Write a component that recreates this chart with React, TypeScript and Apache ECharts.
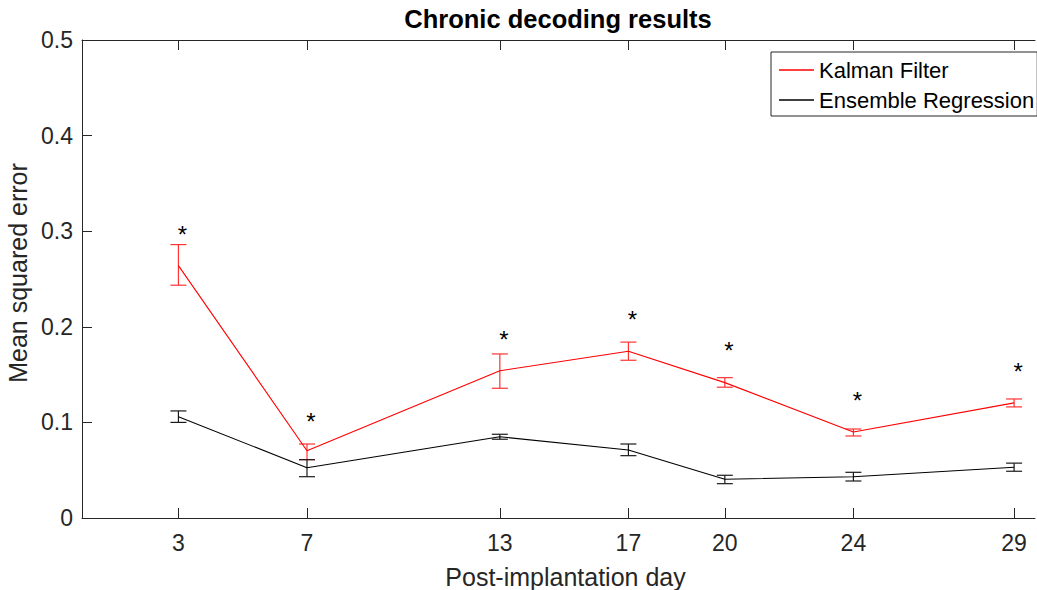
import React, { useEffect, useRef } from "react";
import * as echarts from "echarts";

const days = [3, 7, 13, 17, 20, 24, 29];
const kalmanMean = [0.264, 0.0704, 0.154, 0.1745, 0.1416, 0.09, 0.1204];
const kalmanLow = [0.2435, 0.061, 0.1357, 0.165, 0.1368, 0.0858, 0.1162];
const kalmanHigh = [0.286, 0.0774, 0.1716, 0.184, 0.1468, 0.0931, 0.1245];
const ensembleMean = [0.106, 0.0526, 0.085, 0.0712, 0.0405, 0.0432, 0.0531];
const ensembleLow = [0.1, 0.0432, 0.0824, 0.0652, 0.0359, 0.0387, 0.0489];
const ensembleHigh = [0.112, 0.061, 0.0876, 0.0774, 0.0447, 0.0478, 0.0574];
const starValues = [0.302, 0.106, 0.1915, 0.2125, 0.18, 0.128, 0.158];
const yTicks = [0, 0.1, 0.2, 0.3, 0.4, 0.5];

const FONT = "'Liberation Sans', Arial, Helvetica, sans-serif";
const TXT = "#262626";

function errorBarSeries(color: string, low: number[], high: number[]) {
  return {
    type: "custom",
    silent: true,
    z: 3,
    data: days.map((d, i) => [d, low[i], high[i]]),
    renderItem: (params: any, api: any) => {
      const x = api.value(0);
      const lo = api.coord([x, api.value(1)]);
      const hi = api.coord([x, api.value(2)]);
      const w = 8;
      const style = { stroke: color, lineWidth: 1.2 };
      return {
        type: "group",
        children: [
          { type: "line", shape: { x1: lo[0], y1: lo[1], x2: hi[0], y2: hi[1] }, style },
          { type: "line", shape: { x1: lo[0] - w, y1: lo[1], x2: lo[0] + w, y2: lo[1] }, style },
          { type: "line", shape: { x1: hi[0] - w, y1: hi[1], x2: hi[0] + w, y2: hi[1] }, style },
        ],
      };
    },
  };
}

export default function App() {
  const ref = useRef<HTMLDivElement>(null);
  useEffect(() => {
    if (!ref.current) return;
    const chart = echarts.init(ref.current, undefined, { renderer: "svg" });
    const xCommon = {
      type: "value",
      min: 0,
      max: 29.65,
      splitLine: { show: false },
      axisLine: { show: true, lineStyle: { color: TXT, width: 1 } },
      axisTick: {
        show: true,
        inside: true,
        length: 10,
        customValues: days,
        lineStyle: { color: TXT, width: 1 },
      },
    };
    chart.setOption({
      animation: false,
      backgroundColor: "#ffffff",
      textStyle: { fontFamily: FONT },
      title: {
        text: "Chronic decoding results",
        left: 558,
        top: 6,
        padding: 0,
        textAlign: "center",
        textStyle: { fontFamily: FONT, fontSize: 25.5, fontWeight: "bold", color: "#000" },
      },
      legend: {
        orient: "vertical",
        left: 771,
        top: 52,
        padding: [7, 3, 5, 8],
        itemGap: 8,
        itemWidth: 35,
        itemHeight: 1.5,
        icon: "rect",
        backgroundColor: "#fff",
        borderColor: TXT,
        borderWidth: 1,
        borderRadius: 0,
        data: ["Kalman Filter", "Ensemble Regression"],
        textStyle: { fontFamily: FONT, fontSize: 22, color: "#000", lineHeight: 21, padding: [0, 0, 0, 0] },
      },
      grid: { left: 82, top: 40, bottom: 72, right: 2, containLabel: false, outerBoundsMode: "none" },
      xAxis: [
        {
          ...xCommon,
          position: "bottom",
          name: "Post-implantation day",
          nameLocation: "middle",
          nameGap: 46,
          nameTextStyle: { fontFamily: FONT, fontSize: 25, color: TXT, padding: [0, 0, 0, 14] },
          axisLabel: {
            show: true,
            customValues: days,
            margin: 13,
            fontFamily: FONT,
            fontSize: 23,
            color: TXT,
          },
        },
        {
          ...xCommon,
          position: "top",
          axisLabel: { show: false },
        },
      ],
      yAxis: {
        type: "value",
        min: 0,
        max: 0.5,
        interval: 0.1,
        name: "Mean squared error",
        nameLocation: "middle",
        nameGap: 47,
        nameTextStyle: { fontFamily: FONT, fontSize: 25, color: TXT, padding: [0, 0, 0, 12] },
        splitLine: { show: false },
        axisLine: { show: true, lineStyle: { color: TXT, width: 1 } },
        axisTick: { show: true, inside: true, length: 10, lineStyle: { color: TXT, width: 1 } },
        axisLabel: {
          margin: 9,
          fontFamily: FONT,
          fontSize: 23,
          color: TXT,
          customValues: yTicks,
          formatter: (v: number) => (v === 0 ? "0" : String(Math.round(v * 10) / 10)),
        },
      },
      series: [
        {
          name: "Kalman Filter",
          type: "line",
          data: days.map((d, i) => [d, kalmanMean[i]]),
          symbol: "none",
          lineStyle: { color: "#ff0000", width: 1.1 },
          itemStyle: { color: "#ff0000" },
          z: 4,
        },
        {
          name: "Ensemble Regression",
          type: "line",
          data: days.map((d, i) => [d, ensembleMean[i]]),
          symbol: "none",
          lineStyle: { color: "#000000", width: 1.1 },
          itemStyle: { color: "#000000" },
          z: 4,
        },
        errorBarSeries("#ff3333", kalmanLow, kalmanHigh),
        errorBarSeries("#1a1a1a", ensembleLow, ensembleHigh),
        {
          type: "custom",
          silent: true,
          z: 5,
          data: days.map((d, i) => [d, starValues[i]]),
          renderItem: (params: any, api: any) => {
            const p = api.coord([api.value(0), api.value(1)]);
            return {
              type: "text",
              x: p[0] + 4,
              y: p[1] + 5,
              style: {
                text: "*",
                fontFamily: FONT,
                fontSize: 24,
                fill: "#000",
                align: "center",
                verticalAlign: "middle",
              },
            };
          },
        },
      ],
    });
    return () => chart.dispose();
  }, []);
  return (
    <div
      ref={ref}
      style={{ position: "fixed", left: 0, top: 0, width: 1037, height: 590 }}
    />
  );
}
